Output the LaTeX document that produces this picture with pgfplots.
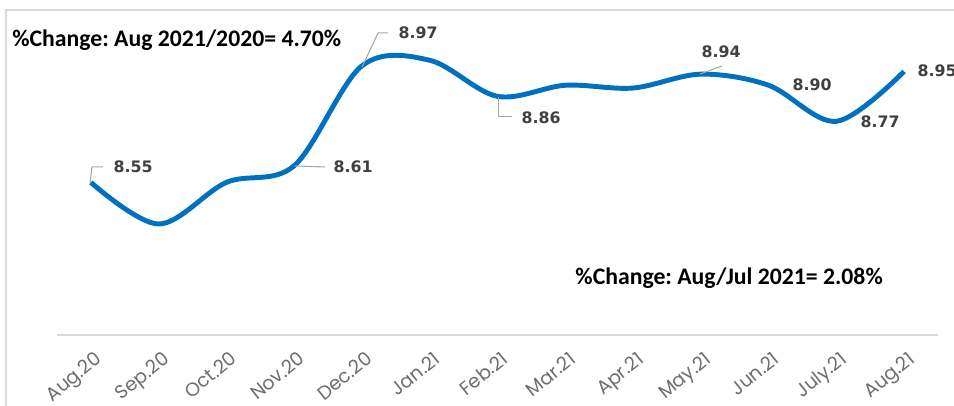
\documentclass[border=0pt]{standalone}
\usepackage{fontspec}
\usepackage{pgfplots}
\pgfplotsset{compat=1.18}
\setmainfont{Carlito}
\newfontfamily\lblfont{DejaVu Sans}
\newfontfamily\tickfont{Poppins}
\definecolor{lineblue}{HTML}{0070C0}
\definecolor{lblgray}{HTML}{404040}
\definecolor{tickgray}{HTML}{6E6E6E}
\definecolor{framegray}{HTML}{D9D9D9}
\definecolor{leadgray}{HTML}{A6A6A6}
% pixel position of the reference -> cm, origin at plot area lower left
\newcommand{\pxc}[2]{({(#1-57)*0.02},{(335-#2)*0.02})}
\frenchspacing

\begin{document}
\begin{tikzpicture}
\useasboundingbox (-1.14,-1.40) rectangle (17.94,6.70);
\draw[framegray, line width=1pt] (-1.02,-1.6) -- (-1.02,6.50) -- (18.1,6.50);
\begin{axis}[
  at={(0,0)}, anchor=south west,
  scale only axis, width=17.62cm, height=6.66cm,
  xmin=-0.5, xmax=12.5, ymin=8.0, ymax=9.2,
  axis x line=bottom, axis y line=none,
  x axis line style={draw=framegray, line width=0.9pt, -},
  xtick={0,...,12},
  xticklabels={Aug.20, Sep.20, Oct.20, Nov.20, Dec.20, Jan.21, Feb.21,
               Mar.21, Apr.21, May.21, Jun.21, July.21, Aug.21},
  major tick length=0pt,
  xticklabel style={font=\tickfont\fontsize{10.8}{12}\selectfont, text=tickgray,
    inner sep=0pt, xshift=0.06cm, yshift=-0.3cm, rotate=39, anchor=north east},
  clip=false,
]
\addplot[lineblue, line width=2.8pt, smooth, tension=0.55] coordinates {
  (0,8.55) (1,8.40) (2,8.55) (3,8.61) (4,8.97) (5,8.99) (6,8.86)
  (7,8.90) (8,8.89) (9,8.94) (10,8.90) (11,8.77) (12,8.95)
};
\end{axis}
% leader lines
\draw[leadgray, line width=0.6pt] \pxc{90}{183} -- \pxc{92}{167} -- \pxc{103}{167};
\draw[leadgray, line width=0.6pt] \pxc{295}{166} -- \pxc{325}{167};
\draw[leadgray, line width=0.6pt] \pxc{362}{67} -- \pxc{378}{33} -- \pxc{388}{33};
\draw[leadgray, line width=0.6pt] \pxc{498}{97} -- \pxc{498}{117} -- \pxc{512}{117};
\draw[leadgray, line width=0.6pt] \pxc{700}{74} -- \pxc{722}{66};
% data labels
\tikzset{dl/.style={font=\lblfont\bfseries\fontsize{9}{10}\selectfont, text=lblgray, inner sep=0pt}}
\node[dl] at \pxc{133}{167} {8.55};
\node[dl] at \pxc{353}{167} {8.61};
\node[dl] at \pxc{418}{33} {8.97};
\node[dl] at \pxc{541}{118} {8.86};
\node[dl] at \pxc{721}{52} {8.94};
\node[dl] at \pxc{812}{85} {8.90};
\node[dl] at \pxc{880}{122} {8.77};
\node[dl, anchor=west] at \pxc{917}{71} {8.95};
% annotations
\node[anchor=west, inner sep=0pt, font=\bfseries\fontsize{13.5}{15}\selectfont]
  at \pxc{12}{40} {\%Change: Aug 2021/2020= 4.70\%};
\node[anchor=west, inner sep=0pt, font=\bfseries\fontsize{13.5}{15}\selectfont]
  at \pxc{575}{278} {\%Change: Aug/Jul 2021= 2.08\%};
\end{tikzpicture}
\end{document}
